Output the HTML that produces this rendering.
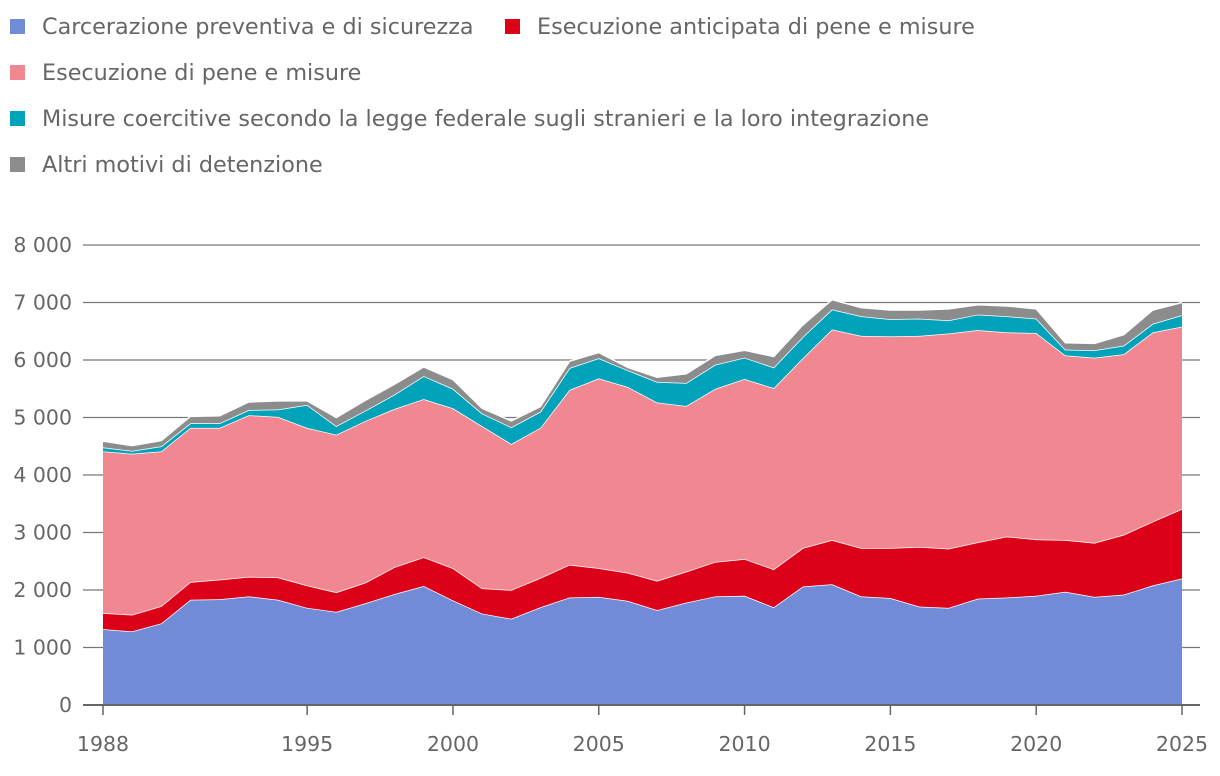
<!DOCTYPE html>
<html><head><meta charset="utf-8"><style>
body{margin:0;background:#fff;font-family:"DejaVu Sans","Liberation Sans",sans-serif;}
svg text{font-family:"DejaVu Sans","Liberation Sans",sans-serif;fill:#666;}
</style></head><body>
<svg id="chart" width="1220" height="772" viewBox="0 0 1220 772" xmlns="http://www.w3.org/2000/svg">
<g id="legend"></g>
<g id="grid"></g>
<g id="areas"></g>
<g id="axes"></g>
</svg>
<script>
const years = [1988,1989,1990,1991,1992,1993,1994,1995,1996,1997,1998,1999,2000,2001,2002,2003,2004,2005,2006,2007,2008,2009,2010,2011,2012,2013,2014,2015,2016,2017,2018,2019,2020,2021,2022,2023,2024,2025];
const carcerazione = [1320,1280,1420,1830,1840,1890,1830,1690,1620,1770,1930,2070,1820,1590,1500,1700,1870,1880,1810,1650,1780,1890,1900,1700,2060,2100,1890,1860,1710,1690,1850,1870,1900,1970,1880,1920,2080,2200];
const anticipata = [280,290,300,310,340,340,390,390,340,360,470,500,560,440,500,510,570,500,490,510,540,600,640,660,670,770,840,870,1040,1030,980,1060,980,900,940,1040,1110,1210];
const esecuzione = [2810,2800,2690,2680,2640,2810,2790,2740,2740,2810,2750,2750,2780,2820,2540,2610,3040,3300,3230,3100,2880,3010,3130,3150,3300,3660,3690,3680,3670,3740,3690,3550,3590,3210,3220,3140,3290,3170];
const coercitive = [70,50,90,80,80,90,130,400,150,180,250,400,340,220,290,280,380,350,290,360,400,420,370,360,370,350,340,300,300,230,270,280,250,100,130,150,150,200];
const altri = [110,90,100,120,130,140,150,70,150,180,180,160,160,90,110,90,120,100,50,80,160,160,130,190,210,170,150,160,150,200,170,180,170,120,120,190,240,220];
const yTicks = [0,1000,2000,3000,4000,5000,6000,7000,8000];
const yTickLabels = ["0","1 000","2 000","3 000","4 000","5 000","6 000","7 000","8 000"];
const xTicks = [1988,1995,2000,2005,2010,2015,2020,2025];
const seriesNames = ["Carcerazione preventiva e di sicurezza","Esecuzione anticipata di pene e misure","Esecuzione di pene e misure","Misure coercitive secondo la legge federale sugli stranieri e la loro integrazione","Altri motivi di detenzione"];

const NS="http://www.w3.org/2000/svg";
const colors=["#728bd6","#dc0018","#f08791","#00a3ba","#8c8c8c"];
const x0=103,x1=1182,yb=705,yt=245;
const xs=y=>x0+(y-1988)*(x1-x0)/(2025-1988);
const ys=v=>yb-v*(yb-yt)/8000;
function mk(tag,attrs,parent){const e=document.createElementNS(NS,tag);for(const k in attrs)e.setAttribute(k,attrs[k]);parent.appendChild(e);return e;}

const grid=document.getElementById('grid');
yTicks.forEach((t,i)=>{
  if(t>0){const l=mk('line',{x1:83,x2:1200,y1:ys(t),y2:ys(t),stroke:'#777','stroke-width':1.3},grid);
  
  }
  const tx=mk('text',{x:72,y:ys(t)+7,'text-anchor':'end','font-size':20.5},grid);
  tx.textContent=yTickLabels[i];
  
  
});

const series=[carcerazione,anticipata,esecuzione,coercitive,altri];
const areas=document.getElementById('areas');
let base=years.map(()=>0);
series.forEach((s,si)=>{
  const top=base.map((b,i)=>b+s[i]);
  let d='M'+years.map((y,i)=>xs(y)+','+ys(top[i])).join('L');
  for(let i=years.length-1;i>=0;i--)d+='L'+xs(years[i])+','+ys(base[i]);
  d+='Z';
  const p=mk('path',{d:d,fill:colors[si]},areas);
  
  
  const l=mk('polyline',{points:years.map((y,i)=>xs(y)+','+ys(top[i])).join(' '),fill:'none',stroke:'#fff','stroke-width':1.5},areas);
  
  
  base=top;
});

const axes=document.getElementById('axes');
const ax=mk('line',{x1:83,x2:1200,y1:yb,y2:yb,stroke:'#666','stroke-width':2},axes);


xTicks.forEach(t=>{
  const l=mk('line',{x1:xs(t),x2:xs(t),y1:yb,y2:yb+10,stroke:'#666','stroke-width':1.5},axes);
  
  
  const tx=mk('text',{x:xs(t),y:751,'text-anchor':'middle','font-size':20.5},axes);
  tx.textContent=t;
  
  
});

const legend=document.getElementById('legend');
const pos=[[10,27],[505,27],[10,73],[10,119],[10,165]];
seriesNames.forEach((n,i)=>{
  const g=mk('g',{},legend);
  
  
  mk('rect',{x:pos[i][0],y:pos[i][1]-8,width:15,height:15,fill:colors[i]},g);
  const tx=mk('text',{x:pos[i][0]+32,y:pos[i][1]+7,'font-size':22.3},g);
  tx.textContent=n;
});
</script>
</body></html>
